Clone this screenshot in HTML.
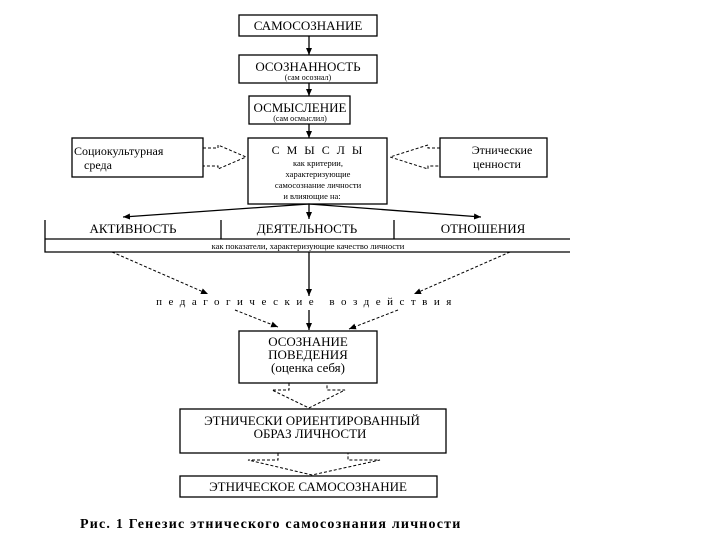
<!DOCTYPE html>
<html><head><meta charset="utf-8"><style>
body{margin:0;background:#fff;width:720px;height:540px;overflow:hidden;font-family:"Liberation Serif",serif;}
</style></head><body>
<svg width="720" height="540" xmlns="http://www.w3.org/2000/svg" font-family="Liberation Serif, serif" fill="none" stroke="#000">
<defs><marker id="a" markerWidth="8" markerHeight="8" refX="7" refY="4" orient="auto" markerUnits="userSpaceOnUse"><path d="M0,1 L7,4 L0,7z" fill="#000" stroke="none"/></marker></defs>
<g stroke-width="1.3">
<rect x="239" y="15" width="138" height="21"/>
<rect x="239" y="55" width="138" height="28"/>
<rect x="249" y="96" width="101" height="28"/>
<rect x="72" y="138" width="131" height="39"/>
<rect x="248" y="138" width="139" height="66"/>
<rect x="440" y="138" width="107" height="39"/>
<rect x="239" y="331" width="138" height="52"/>
<rect x="180" y="409" width="266" height="44"/>
<rect x="180" y="476" width="257" height="21"/>
<line x1="309" y1="36" x2="309" y2="55" marker-end="url(#a)"/>
<line x1="309" y1="83" x2="309" y2="96" marker-end="url(#a)"/>
<line x1="309" y1="124" x2="309" y2="138" marker-end="url(#a)"/>
<path d="M45,220 V252 H570 M45,239 H570 M221,220 V239 M394,220 V239"/>
<line x1="309" y1="204" x2="123" y2="217" marker-end="url(#a)"/>
<line x1="309" y1="204" x2="309" y2="219" marker-end="url(#a)"/>
<line x1="309" y1="204" x2="481" y2="217" marker-end="url(#a)"/>
<line x1="309" y1="252" x2="309" y2="296" marker-end="url(#a)"/>
<line x1="309" y1="310" x2="309" y2="330" marker-end="url(#a)"/>
</g>
<g stroke-width="1" stroke-dasharray="3,2">
<line x1="112" y1="252" x2="208" y2="294" marker-end="url(#a)"/>
<line x1="235" y1="310" x2="278" y2="327" marker-end="url(#a)"/>
<line x1="510" y1="252" x2="414" y2="294" marker-end="url(#a)"/>
<line x1="398" y1="310" x2="349" y2="329" marker-end="url(#a)"/>
<path d="M203,148 H218 V145 L246,157 L218,169 V166 H203"/>
<path d="M440,148 H428 V145 L390,157 L428,169 V166 H440"/>
<path d="M289,383 V390 H272 L309,408 L345,390 H327 V383"/>
<path d="M278,453 V460 H248 L312,475 L380,460 H348 V453"/>
</g>
<g fill="#000" stroke="none" text-anchor="middle" font-size="13">
<text x="308" y="30">САМОСОЗНАНИЕ</text>
<text x="308" y="71">ОСОЗНАННОСТЬ</text>
<text x="308" y="80" font-size="8">(сам осознал)</text>
<text x="300" y="112">ОСМЫСЛЕНИЕ</text>
<text x="300" y="121" font-size="8">(сам осмыслил)</text>
<text x="74" y="155" text-anchor="start" font-size="12">Социокультурная</text>
<text x="84" y="169" text-anchor="start" font-size="12">среда</text>
<text x="502" y="154" font-size="12">Этнические</text>
<text x="497" y="168" font-size="12">ценности</text>
<text x="318" y="154" font-size="12" letter-spacing="2">С М Ы С Л Ы</text>
<text x="318" y="166" font-size="8.5">как критерии,</text>
<text x="318" y="177" font-size="8.5">характеризующие</text>
<text x="318" y="188" font-size="8.5">самосознание личности</text>
<text x="312" y="199" font-size="8.5">и влияющие на:</text>
<text x="133" y="233" font-size="13">АКТИВНОСТЬ</text>
<text x="307" y="233" font-size="13">ДЕЯТЕЛЬНОСТЬ</text>
<text x="483" y="233" font-size="13">ОТНОШЕНИЯ</text>
<text x="308" y="249" font-size="8.5">как показатели, характеризующие качество личности</text>
<text x="307" y="305" font-size="11" letter-spacing="6.5">педагогические  воздействия</text>
<text x="308" y="346">ОСОЗНАНИЕ</text>
<text x="308" y="359">ПОВЕДЕНИЯ</text>
<text x="308" y="372">(оценка себя)</text>
<text x="312" y="425">ЭТНИЧЕСКИ ОРИЕНТИРОВАННЫЙ</text>
<text x="310" y="438">ОБРАЗ ЛИЧНОСТИ</text>
<text x="308" y="491">ЭТНИЧЕСКОЕ  САМОСОЗНАНИЕ</text>
<text x="80" y="528" text-anchor="start" font-size="14" font-weight="bold" letter-spacing="1.2">Рис. 1    Генезис этнического самосознания личности</text>
</g>
</svg>
</body></html>
